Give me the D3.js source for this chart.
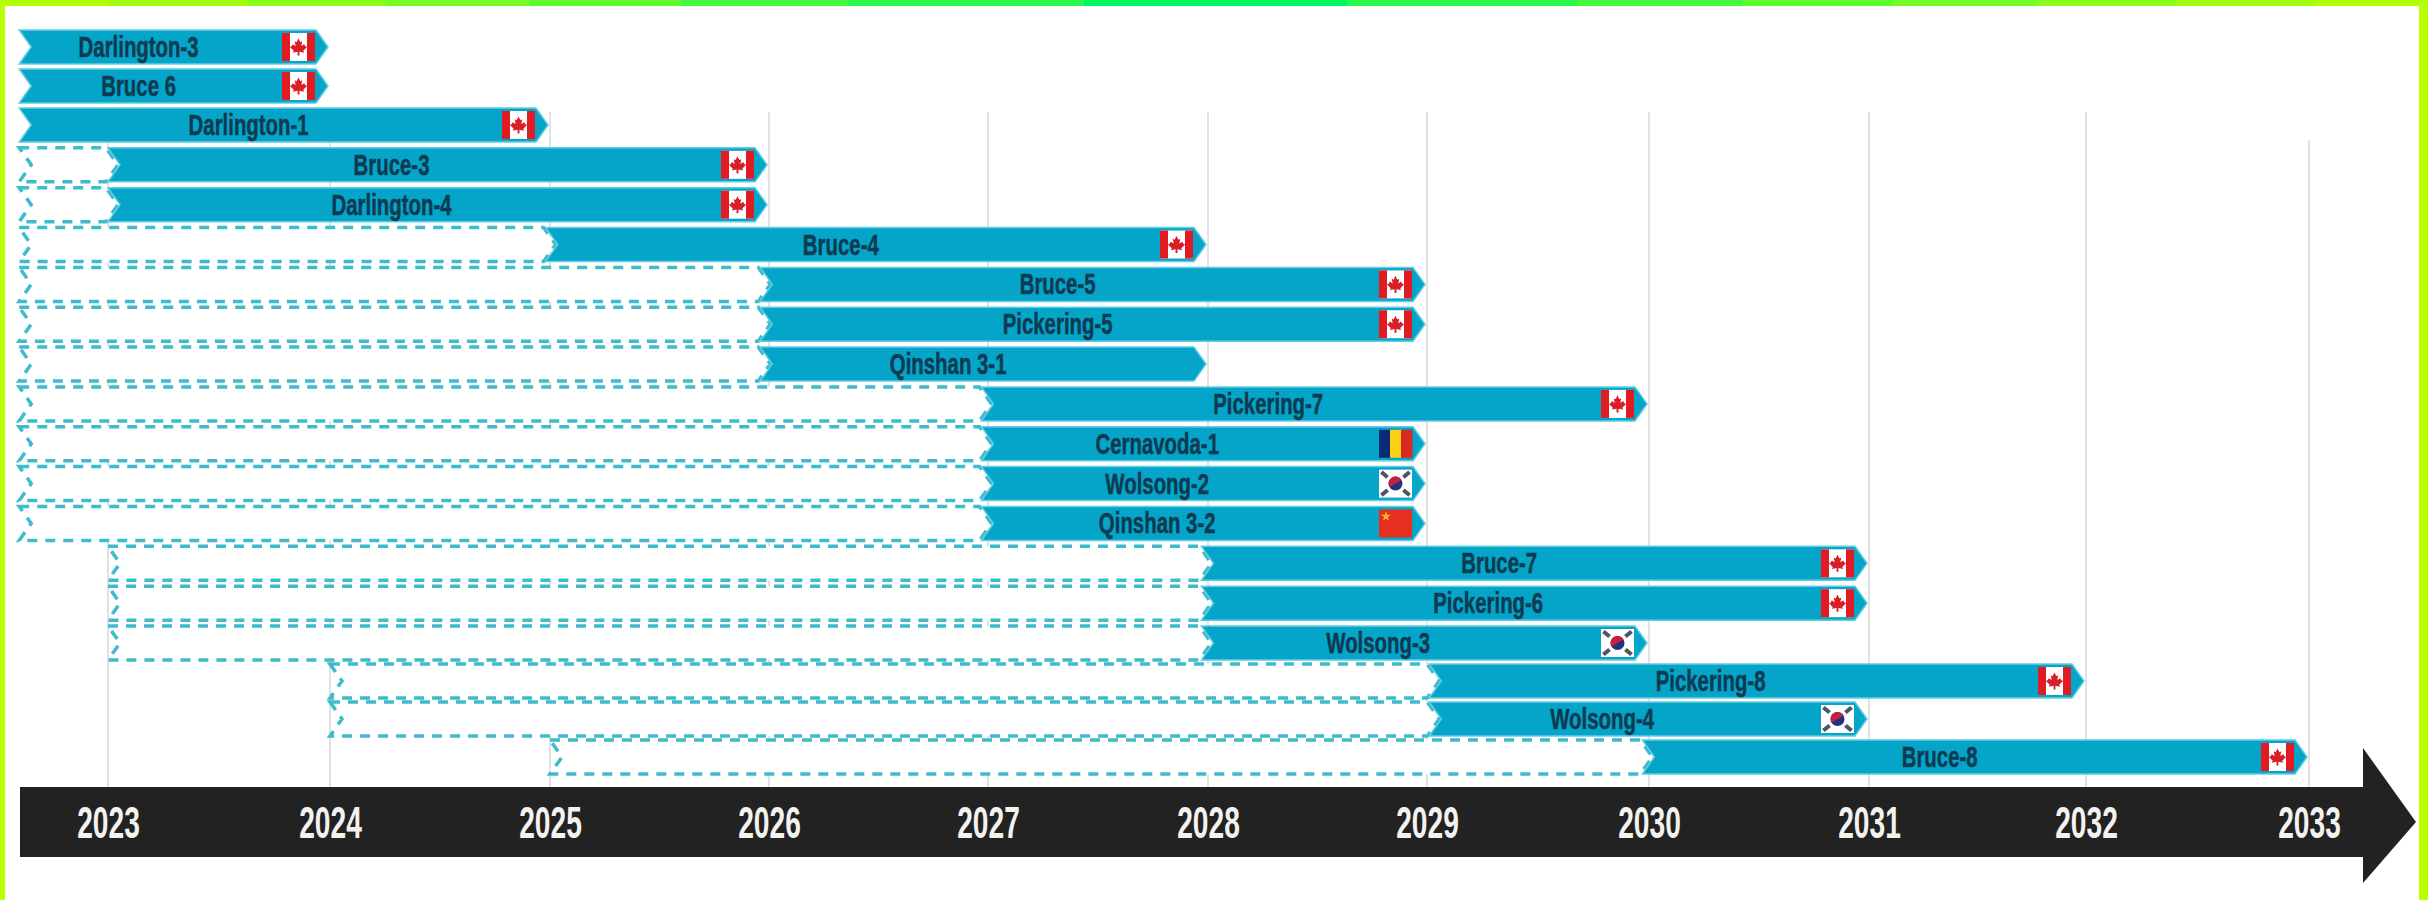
<!DOCTYPE html>
<html>
<head>
<meta charset="utf-8">
<title>Reactor refurbishment timeline</title>
<script src="https://cdnjs.cloudflare.com/ajax/libs/d3/7.9.0/d3.min.js"></script>
<style>
  html, body { margin: 0; padding: 0; background: #fff; }
  svg { display: block; font-family: "Liberation Sans", Arial, sans-serif; }
</style>
</head>
<body>
<svg id="chart" width="2428" height="900"></svg>
<script>
// Reactor outages: planning lead-in (dashed) followed by refurbishment works (solid)
const reactors = ["Darlington-3","Bruce 6","Darlington-1","Bruce-3","Darlington-4","Bruce-4","Bruce-5","Pickering-5","Qinshan 3-1","Pickering-7","Cernavoda-1","Wolsong-2","Qinshan 3-2","Bruce-7","Pickering-6","Wolsong-3","Pickering-8","Wolsong-4","Bruce-8"];
const leadInStart = [null,null,null,2022.6,2022.6,2022.6,2022.6,2022.6,2022.6,2022.6,2022.6,2022.6,2022.6,2023,2023,2023,2024,2024,2025];
const worksStart  = [2022.6,2022.6,2022.6,2023,2023,2024.98,2025.96,2025.96,2025.96,2026.97,2026.97,2026.97,2026.97,2027.97,2027.97,2027.97,2029.01,2029.01,2029.97];
const worksEnd    = [2024,2024,2025,2026,2026,2028,2029,2029,2028,2030,2029,2029,2029,2031,2031,2030,2032,2031,2033];
const countries   = ["CA","CA","CA","CA","CA","CA","CA","CA",null,"CA","RO","KR","CN","CA","CA","KR","CA","KR","CA"];
const years = [2023,2024,2025,2026,2027,2028,2029,2030,2031,2032,2033];

const rows = reactors.map((name, i) => ({
  name, index: i, lead: leadInStart[i], start: worksStart[i], end: worksEnd[i], country: countries[i]
}));

// The year axis and row ladder are slightly uneven, so both scales are piecewise
const x = d3.scaleLinear()
  .domain(years)
  .range([108, 330, 550, 769, 988, 1208, 1427, 1649, 1869, 2086, 2309]);
const rowY = d3.scaleLinear().domain([0, 2, 15, 18]).range([47, 125, 643, 757]);
const y = name => rowY(reactors.indexOf(name));

const barH = 34, point = 12;
const svg = d3.select("#chart");

// Frame: stepped lime-to-green strip along the top, plain lime at the sides
const stripEdges = [0,108,248,387,530,681,848,1084,1347,1577,1742,1892,2036,2176,2315,2428];
const stripColor = d3.scaleLinear()
  .domain([0, 1214, 2428])
  .range(["#baff00", "#00f760", "#baff00"])
  .interpolate(d3.interpolateRgb);
svg.append("g").selectAll("rect")
  .data(d3.pairs(stripEdges))
  .join("rect")
  .attr("x", d => d[0]).attr("y", 0)
  .attr("width", d => d[1] - d[0] + 1).attr("height", 6)
  .attr("fill", d => stripColor((d[0] + d[1]) / 2));
svg.append("rect").attr("x", 0).attr("y", 6).attr("width", 5).attr("height", 894).attr("fill", "#baff00");
svg.append("rect").attr("x", 2419).attr("y", 6).attr("width", 9).attr("height", 894).attr("fill", "#baff00");

// Year gridlines
svg.append("g").selectAll("line")
  .data(years)
  .join("line")
  .attr("x1", x).attr("x2", x)
  .attr("y1", d => d === 2033 ? 140 : 112).attr("y2", 787)
  .attr("stroke", "#e2e2e2").attr("stroke-width", 2);

// Chevron outline shared by dashed lead-ins and solid bars
function chevron(x0, x1, cy, tip) {
  const t = cy - barH / 2, b = cy + barH / 2;
  const p = d3.path();
  p.moveTo(x0, t);
  p.lineTo(tip ? x1 - point : x1, t);
  p.lineTo(tip ? x1 : x1 + point, cy);
  p.lineTo(tip ? x1 - point : x1, b);
  p.lineTo(x0, b);
  p.lineTo(x0 + point, cy);
  p.closePath();
  return p.toString();
}

svg.append("g").selectAll("path")
  .data(rows.filter(d => d.lead !== null))
  .join("path")
  .attr("d", d => chevron(x(d.lead), x(d.start) - 2, y(d.name), false))
  .attr("fill", "#fff")
  .attr("stroke", "#3fbbcc")
  .attr("stroke-width", 3.5)
  .attr("stroke-dasharray", "10 8");

svg.append("g").selectAll("path")
  .data(rows)
  .join("path")
  .attr("d", d => chevron(x(d.start), x(d.end) - 2, y(d.name), true))
  .attr("fill", "#04a5c8")
  .attr("stroke", "#63cde2")
  .attr("stroke-width", 1.5);

// Labels sit left of each bar's centre, clear of the flag
const widerLabelShift = new Set(["Bruce-3","Darlington-4","Pickering-7","Cernavoda-1","Wolsong-2","Qinshan 3-2","Pickering-6","Wolsong-3","Pickering-8","Wolsong-4"]);
svg.append("g").selectAll("text")
  .data(rows)
  .join("text")
  .attr("transform", d => {
    const shift = widerLabelShift.has(d.name) ? -47 : -36;
    return `translate(${(x(d.start) + x(d.end)) / 2 + shift},${y(d.name) + 10}) scale(0.68,1)`;
  })
  .attr("text-anchor", "middle")
  .attr("font-size", 30)
  .attr("font-weight", 700)
  .attr("fill", "#0e3a52")
  .attr("stroke", "#0e3a52")
  .attr("stroke-width", 0.5)
  .text(d => d.name);

// Flags
const flagW = 33, flagH = 28;
const leaf = "M0,-9 L2,-5 L4,-6 L3,-1 L6,-3 L7,-1 L9,0 L5,4 L6,6 L1,5 L1,9 L-1,9 L-1,5 L-6,6 L-5,4 L-9,0 L-7,-1 L-6,-3 L-3,-1 L-4,-6 L-2,-5 Z";
const flagPainters = {
  CA(g) {
    g.append("rect").attr("width", flagW).attr("height", flagH).attr("fill", "#fff");
    g.append("rect").attr("width", 8).attr("height", flagH).attr("fill", "#e01b22");
    g.append("rect").attr("x", flagW - 8).attr("width", 8).attr("height", flagH).attr("fill", "#e01b22");
    g.append("path").attr("d", leaf).attr("transform", `translate(${flagW / 2},${flagH / 2}) scale(0.95)`).attr("fill", "#d81e26");
  },
  RO(g) {
    ["#0b2a78", "#fbd116", "#d92a20"].forEach((c, i) =>
      g.append("rect").attr("x", i * flagW / 3).attr("width", flagW / 3 + 0.5).attr("height", flagH).attr("fill", c));
  },
  KR(g) {
    const cx = flagW / 2, cy = flagH / 2;
    g.append("rect").attr("width", flagW).attr("height", flagH).attr("fill", "#fff");
    g.append("circle").attr("cx", cx).attr("cy", cy).attr("r", 7).attr("fill", "#27307f");
    g.append("path").attr("d", d3.arc()({ innerRadius: 0, outerRadius: 7, startAngle: -Math.PI / 2, endAngle: Math.PI / 2 }))
      .attr("transform", `translate(${cx},${cy}) rotate(-30)`).attr("fill", "#c8203a");
    [[-1,-1],[1,-1],[-1,1],[1,1]].forEach(([a, b]) =>
      g.append("rect").attr("x", -4).attr("y", -2).attr("width", 8).attr("height", 4)
        .attr("transform", `translate(${cx + a * 11},${cy + b * 9}) rotate(${a * b * 40})`)
        .attr("fill", "#4d5560"));
  },
  CN(g) {
    g.append("rect").attr("width", flagW).attr("height", flagH).attr("fill", "#e5301f");
    g.append("path").attr("d", d3.symbol(d3.symbolStar, 30)()).attr("transform", "translate(7,7)").attr("fill", "#f7b62c");
  }
};
svg.append("g").selectAll("g")
  .data(rows.filter(d => d.country))
  .join("g")
  .attr("transform", d => `translate(${x(d.end) - 15 - flagW},${y(d.name) - flagH / 2})`)
  .each(function (d) { flagPainters[d.country](d3.select(this)); });

// Timeline arrow and its year ticks
const arrow = d3.path();
arrow.moveTo(20, 787);
arrow.lineTo(2363, 787);
arrow.lineTo(2363, 748);
arrow.lineTo(2416, 822);
arrow.lineTo(2363, 883);
arrow.lineTo(2363, 857);
arrow.lineTo(20, 857);
arrow.closePath();
svg.append("path").attr("d", arrow.toString()).attr("fill", "#222222");

const axis = svg.append("g")
  .attr("transform", "translate(0,822)")
  .call(d3.axisBottom(x).tickValues(years).tickFormat(d3.format("d")).tickSize(0).tickPadding(0));
axis.select(".domain").remove();
axis.selectAll("text")
  .attr("y", 0).attr("dy", "0.36em")
  .attr("transform", "scale(0.64,1)")
  .attr("font-family", "'Liberation Sans', Arial, sans-serif")
  .attr("font-size", 44)
  .attr("font-weight", 700)
  .attr("fill", "#f4f2ee");
</script>
</body>
</html>
